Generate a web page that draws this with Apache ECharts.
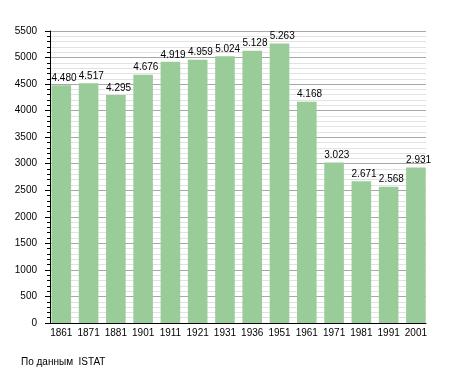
<!DOCTYPE html>
<html><head><meta charset="utf-8">
<script src="https://cdn.jsdelivr.net/npm/echarts@6/dist/echarts.min.js"></script>
<style>html,body{margin:0;padding:0;background:#fff}#c{width:455px;height:373px}</style>
</head><body><div id="c"></div>
<script>
const years = ['1861','1871','1881','1901','1911','1921','1931','1936','1951','1961','1971','1981','1991','2001'];
const population = [4480,4517,4295,4676,4919,4959,5024,5128,5263,4168,3023,2671,2568,2931];
const yMin = 0, yMax = 5500, yStep = 500;
const sourceNote = 'По данным  ISTAT';

const FONT = 'Liberation Sans, Arial, sans-serif';
function fmt(v){ return String(v).replace(/\B(?=(\d{3})+(?!\d))/g, '.'); }

const chart = echarts.init(document.getElementById('c'), null, {renderer:'canvas'});
chart.setOption({
  animation: false,
  backgroundColor: '#fff',
  title: {
    text: sourceNote, left: 21, top: 357, padding: 0,
    textStyle: {fontFamily: FONT, fontSize: 10, fontWeight: 'normal', color: '#000'}
  },
  grid: [
    {left: 50, right: 29, top: 31, bottom: 50},
    {left: 47.65, right: 25.45, top: 31, bottom: 50}
  ],
  xAxis: [
    {gridIndex: 0, type: 'category', data: years, show: true,
     axisLine: {show: true, lineStyle: {color: '#000', width: 1}},
     axisTick: {show: false}, axisLabel: {show: false}, splitLine: {show: false}},
    {gridIndex: 1, type: 'category', data: years,
     axisLine: {show: false}, axisTick: {show: false},
     axisLabel: {show: true, interval: 0, margin: 5, fontFamily: FONT, fontSize: 10, color: '#000'},
     splitLine: {show: false}}
  ],
  yAxis: [
    {gridIndex: 0, type: 'value', min: yMin, max: yMax, interval: yStep,
     axisLine: {show: true, lineStyle: {color: '#000', width: 1}},
     axisTick: {show: true, inside: false, length: 5, lineStyle: {color: '#000', width: 1}},
     minorTick: {show: true, splitNumber: 5, length: 3, lineStyle: {color: '#000', width: 1}},
     axisLabel: {margin: 13, fontFamily: FONT, fontSize: 10, color: '#000', formatter: v => String(v)},
     splitLine: {show: true, lineStyle: {color: '#a8a8a8', width: 1}},
     minorSplitLine: {show: true, lineStyle: {color: '#e2e2e2', width: 1}}},
    {gridIndex: 1, type: 'value', min: yMin, max: yMax, interval: yStep, show: false,
     splitLine: {show: false}}
  ],
  series: [{
    type: 'bar', xAxisIndex: 1, yAxisIndex: 1, data: population,
    barWidth: 19.6,
    itemStyle: {color: '#99cc99'},
    label: {show: true, position: [0, -2], align: 'left', verticalAlign: 'bottom',
      fontFamily: FONT, fontSize: 10, color: '#000',
      formatter: p => fmt(p.value)}
  }]
});
</script>
</body></html>
